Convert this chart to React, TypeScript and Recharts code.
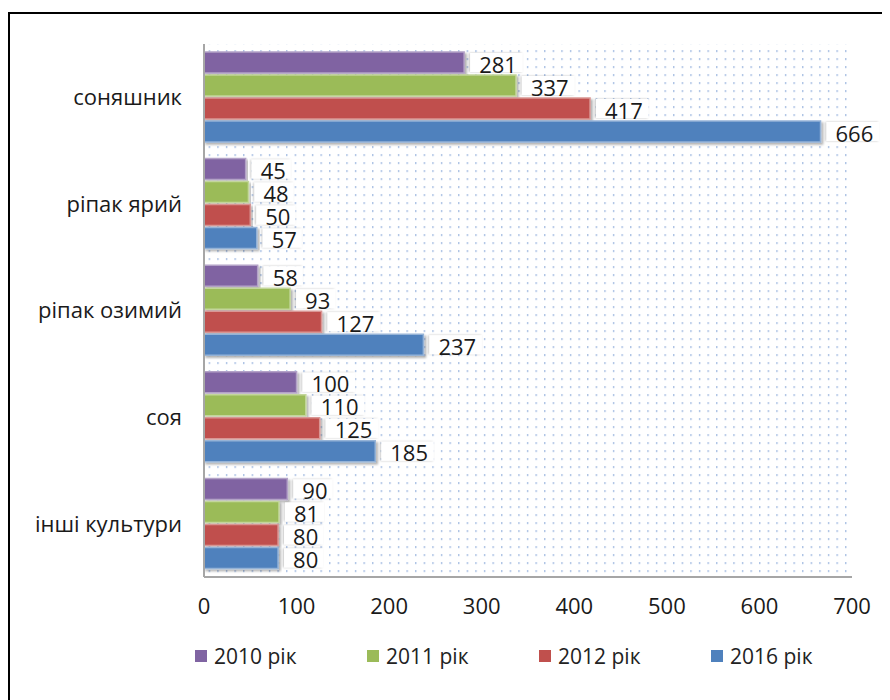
import { Bar, BarChart, CartesianGrid, LabelList, Legend, XAxis, YAxis } from "recharts";

const CROPS = ["соняшник", "ріпак ярий", "ріпак озимий", "соя", "інші культури"];
const Y2010 = [281, 45, 58, 100, 90];
const Y2011 = [337, 48, 93, 110, 81];
const Y2012 = [417, 50, 127, 125, 80];
const Y2016 = [666, 57, 237, 185, 80];
const X_TICKS = [0, 100, 200, 300, 400, 500, 600, 700];

const SERIES = [
  { key: "y2010", name: "2010 рік", color: "#8064A2", edge: "#b3a2c7" },
  { key: "y2011", name: "2011 рік", color: "#9BBB59", edge: "#c3d69b" },
  { key: "y2012", name: "2012 рік", color: "#C0504D", edge: "#d99694" },
  { key: "y2016", name: "2016 рік", color: "#4F81BD", edge: "#95b3d7" },
];

const data = CROPS.map((name, i) => ({
  name,
  y2010: Y2010[i],
  y2011: Y2011[i],
  y2012: Y2012[i],
  y2016: Y2016[i],
}));

const FONT = "'Open Sans', sans-serif";

function ValueLabel(props: any) {
  const { x, y, width, height, value } = props;
  const w = String(value).length * 13.5 + 12;
  const bx = x + width + 6;
  return (
    <g>
      <rect x={bx} y={y + 1} width={w} height={height - 2} fill="#fff" filter="url(#lblShadow)" />
      <text
        x={bx + 9}
        y={y + height / 2 + 1}
        dominantBaseline="central"
        fontFamily={FONT}
        fontSize={22}
        fill="#1a1a1a"
      >
        {value}
      </text>
    </g>
  );
}

function LegendBox() {
  return (
    <div style={{ display: "flex", fontFamily: FONT, fontSize: 21, color: "#222" }}>
      {SERIES.map((s) => (
        <div key={s.key} style={{ width: 172, display: "flex", alignItems: "center" }}>
          <span style={{ width: 12, height: 12, background: s.color, marginRight: 7, display: "inline-block" }} />
          <span>{s.name}</span>
        </div>
      ))}
    </div>
  );
}

export default function App() {
  return (
    <div style={{ position: "relative", width: 882, height: 692, overflow: "hidden", background: "#fff" }}>
      <div
        style={{
          position: "absolute",
          left: 0,
          top: 4,
          width: 900,
          height: 720,
          border: "2px solid #000",
          boxSizing: "border-box",
        }}
      />
      <div style={{ position: "absolute", left: 0, top: 0 }}>
        <BarChart
          width={882}
          height={692}
          data={data}
          layout="vertical"
          margin={{ top: 36, right: 38, left: 0, bottom: 55 }}
          barCategoryGap={8}
          barGap={2}
        >
          <defs>
            <pattern id="dots" width="8.6" height="8" patternUnits="userSpaceOnUse">
              <rect x="3" y="2" width="1.2" height="2.2" fill="#9fb8e0" />
            </pattern>
            <filter id="barShadow" x="-5%" y="-30%" width="110%" height="170%">
              <feDropShadow dx="2" dy="2" stdDeviation="1.2" floodColor="#000" floodOpacity="0.3" />
            </filter>
            <filter id="lblShadow" x="-20%" y="-20%" width="140%" height="140%">
              <feDropShadow dx="-1" dy="0" stdDeviation="1" floodColor="#000" floodOpacity="0.25" />
            </filter>
          </defs>
          <CartesianGrid horizontal={false} vertical={false} fill="url(#dots)" fillOpacity={1} stroke="none" />
          <XAxis
            type="number"
            domain={[0, 700]}
            ticks={X_TICKS}
            interval={0}
            tickLine={false}
            tickSize={0}
            tickMargin={21}
            axisLine={{ stroke: "#a6a6a6", strokeWidth: 2 }}
            tick={{ fontSize: 22, fill: "#1a1a1a", fontFamily: FONT }}
            height={40}
          />
          <YAxis
            type="category"
            dataKey="name"
            width={196}
            tickLine={false}
            tickSize={0}
            tickMargin={22}
            axisLine={{ stroke: "#a6a6a6", strokeWidth: 2 }}
            tick={{ fontSize: 22, fill: "#1a1a1a", fontFamily: FONT }}
          />
          <Legend content={<LegendBox />} wrapperStyle={{ top: 634, left: 187, width: 700 }} />
          {SERIES.map((s) => (
            <Bar
              key={s.key}
              dataKey={s.key}
              name={s.name}
              fill={s.color}
              stroke={s.edge}
              strokeWidth={1.5}
              barSize={21}
              filter="url(#barShadow)"
              isAnimationActive={false}
            >
              <LabelList dataKey={s.key} content={<ValueLabel />} />
            </Bar>
          ))}
        </BarChart>
      </div>
    </div>
  );
}
